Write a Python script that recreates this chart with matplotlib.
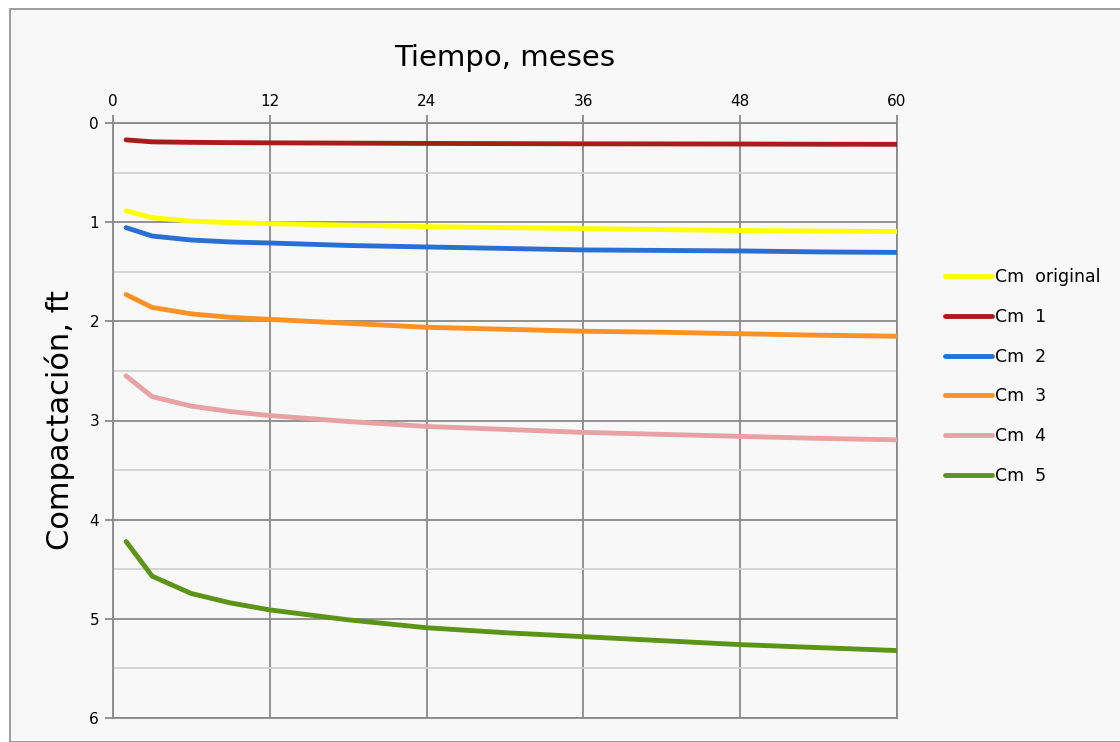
import matplotlib.pyplot as plt
from matplotlib.patches import Rectangle
from matplotlib.ticker import MultipleLocator

# months at which the curves were read
meses = [1, 3, 6, 9, 12, 18, 24, 30, 36, 42, 48, 54, 60]

cm_original = [0.885, 0.955, 0.99, 1.005, 1.015, 1.03, 1.045, 1.055, 1.065, 1.075, 1.084, 1.09, 1.094]
cm_1 = [0.17, 0.19, 0.195, 0.198, 0.20, 0.203, 0.206, 0.208, 0.21, 0.211, 0.212, 0.214, 0.215]
cm_2 = [1.055, 1.14, 1.18, 1.20, 1.21, 1.235, 1.25, 1.265, 1.28, 1.285, 1.29, 1.30, 1.305]
cm_3 = [1.73, 1.86, 1.925, 1.96, 1.98, 2.02, 2.06, 2.08, 2.10, 2.11, 2.125, 2.14, 2.15]
cm_4 = [2.55, 2.76, 2.855, 2.91, 2.95, 3.01, 3.06, 3.09, 3.12, 3.14, 3.16, 3.18, 3.195]
cm_5 = [4.22, 4.57, 4.745, 4.84, 4.91, 5.01, 5.09, 5.14, 5.18, 5.22, 5.26, 5.29, 5.32]

series = [
    ("Cm  original", cm_original, "#ffff00"),
    ("Cm  1", cm_1, "#a81c1c"),
    ("Cm  2", cm_2, "#2a6fd4"),
    ("Cm  3", cm_3, "#ff9222"),
    ("Cm  4", cm_4, "#e8a2a4"),
    ("Cm  5", cm_5, "#5b9416"),
]

fig = plt.figure(figsize=(11.2, 7.42), dpi=100, facecolor="white")
# light grey chart area with thin border
fig.patches.append(Rectangle((10 / 1120, 0), 1.0, 1 - 9 / 742, transform=fig.transFigure,
                             facecolor="#f8f8f8", edgecolor="#8c8c8c", linewidth=1.2, zorder=-5))

ax = fig.add_axes([113 / 1120, 1 - 718 / 742, (897 - 113) / 1120, (718 - 123) / 742])
ax.set_facecolor("#f8f8f8")

for label, vals, color in series:
    ax.plot(meses, vals, color=color, lw=3.5, label=label, solid_capstyle="round", zorder=3)

ax.set_xlim(0, 60)
ax.set_ylim(6, 0)
ax.xaxis.set_major_locator(MultipleLocator(12))
ax.yaxis.set_major_locator(MultipleLocator(1))
ax.yaxis.set_minor_locator(MultipleLocator(0.5))
ax.xaxis.tick_top()
ax.xaxis.set_label_position("top")

ax.grid(True, which="major", color="#8a8a8a", lw=1.3)
ax.grid(True, which="minor", axis="y", color="#d2d2d2", lw=1.3)
ax.tick_params(which="major", length=6, width=1.3, color="#8a8a8a", labelsize=11, pad=4)
ax.tick_params(which="minor", length=0)
for s in ax.spines.values():
    s.set_color("#8a8a8a")
    s.set_linewidth(1.3)

ax.set_xlabel("Tiempo, meses", fontsize=21, labelpad=20)
ax.set_ylabel("Compactación, ft", fontsize=22, labelpad=10)

fig.legend(loc="center left", bbox_to_anchor=(0.83, 0.4926), frameon=False,
           fontsize=12.5, handlelength=2.7, handletextpad=0.15, labelspacing=1.25)

fig.savefig("out.png", dpi=100, facecolor="white")
